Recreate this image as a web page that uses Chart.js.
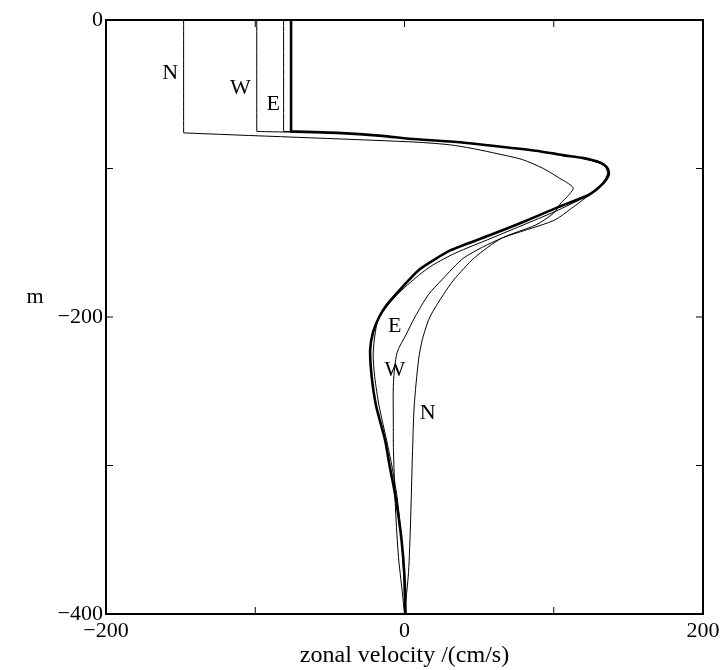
<!DOCTYPE html>
<html lang="en">
<head>
<meta charset="UTF-8">
<title>Zonal velocity profiles</title>
<script src="https://cdn.jsdelivr.net/npm/chart.js"></script>
<style>
    html, body { margin: 0; padding: 0; background: #fff; }
    #wrap { width: 720px; height: 670px; }
</style>
</head>
<body>
<div id="wrap"><canvas id="profiles"></canvas></div>
<script>
    // Velocity profiles (cm/s) against depth (m, negative downward)
    const depthN = [0, -75.5, -76, -82, -84, -87, -90, -94, -100, -106, -113, -119, -123, -130, -138, -147, -160, -175, -185, -200, -215, -229, -260, -290, -340, -372, -400];
    const velN   = [-148, -148, -148, 3, 30, 48, 62, 79, 93, 103, 113, 109, 105, 100, 88, 65, 47, 33, 26, 17, 12, 9.4, 6.5, 5.4, 4, 2.7, 0];

    const depthW = [0, -74.5, -75, -75.5, -76, -78, -80, -82, -85, -88, -91, -93, -96, -99, -103, -108, -114, -120, -126, -135, -147, -160, -175, -185, -200, -212, -224, -244, -270, -290, -330, -362, -385, -400];
    const velW   = [-99, -99, -99, -76, -45, -15, 3, 33, 62, 88, 106, 119, 130, 135, 137, 135, 129, 121, 113, 100, 65, 40, 25, 16, 7, 1, -5, -7.4, -7.5, -7.4, -6, -4, -1.5, 0];

    const depthE = [0, -74.5, -75, -76, -78, -80, -82, -85, -88, -91, -93, -96, -99, -103, -107, -113, -118, -128, -137, -147, -157, -165, -172, -185, -200, -210, -225, -240, -260, -283, -300, -321, -350, -375, -400];
    const velE   = [-81, -81, -81, -45, -15, 3, 33, 62, 88, 106, 119, 130, 134.5, 136, 134.5, 130, 123, 103, 82, 58, 34, 19, 9.4, -5, -17, -19.5, -21, -20, -17, -12, -8.5, -5, -2, -0.5, 0];

    const depthBold = [0, -74.5, -75, -76, -78, -80, -82, -85, -88, -91, -93, -96, -99, -103, -107, -113, -118, -126, -135, -145, -155, -162, -168, -175, -185, -192, -200, -210, -222, -240, -260, -283, -300, -321, -350, -375, -400];
    const velBold   = [-76, -76, -76, -45, -15, 3, 33, 62, 88, 106, 120, 131, 135.5, 137, 135.5, 130, 123, 103, 82, 57, 31, 19, 10, 3, -6, -12, -17, -21, -23, -22, -19, -13, -10, -6, -2, 0, 0.7];

    // curve labels placed in data space
    const labelText  = ['N', 'W', 'E', 'E', 'W', 'N'];
    const labelVel   = [-157, -110, -88, -6.5, -6.5, 15.5];
    const labelDepth = [-36, -46, -57, -206, -236, -265];

    const xTicks = [-200, -100, 0, 100, 200];
    const yTicks = [-400, -300, -200, -100, 0];

    const serif = '"Liberation Serif", "DejaVu Serif", serif';

    function toPoints(vel, depth) {
        return vel.map((v, i) => ({ x: v, y: depth[i] }));
    }

    function fmt(v) {
        if (v % 200 !== 0) return '';
        return v < 0 ? '\u2212' + Math.abs(v) : String(v);
    }

    // frame, inward tick marks, curve labels and the "m" axis label
    const decorations = {
        id: 'decorations',
        afterDatasetsDraw(chart) {
            const { ctx, chartArea: a, scales: { x, y } } = chart;
            ctx.save();
            ctx.strokeStyle = '#000';
            ctx.lineWidth = 1;
            xTicks.slice(1, -1).forEach(t => {
                const px = x.getPixelForValue(t);
                ctx.beginPath();
                ctx.moveTo(px, a.bottom); ctx.lineTo(px, a.bottom - 7);
                ctx.moveTo(px, a.top); ctx.lineTo(px, a.top + 7);
                ctx.stroke();
            });
            yTicks.slice(1, -1).forEach(t => {
                const py = y.getPixelForValue(t);
                ctx.beginPath();
                ctx.moveTo(a.left, py); ctx.lineTo(a.left + 7, py);
                ctx.moveTo(a.right, py); ctx.lineTo(a.right - 7, py);
                ctx.stroke();
            });
            ctx.lineWidth = 2;
            ctx.strokeRect(a.left, a.top, a.right - a.left, a.bottom - a.top);

            ctx.fillStyle = '#000';
            ctx.font = '22px ' + serif;
            ctx.textAlign = 'center';
            ctx.textBaseline = 'middle';
            labelText.forEach((t, i) => {
                ctx.fillText(t, x.getPixelForValue(labelVel[i]), y.getPixelForValue(labelDepth[i]));
            });
            ctx.fillText('m', 35, y.getPixelForValue(-187));
            ctx.restore();
        }
    };

    const thin = { borderColor: '#000', borderWidth: 1, pointRadius: 0, showLine: true, tension: 0.25, fill: false };

    new Chart(document.getElementById('profiles'), {
        type: 'scatter',
        data: {
            datasets: [
                { ...thin, label: 'N', data: toPoints(velN, depthN) },
                { ...thin, label: 'W', data: toPoints(velW, depthW) },
                { ...thin, label: 'E', data: toPoints(velE, depthE) },
                { ...thin, label: 'bold', borderWidth: 2.6, data: toPoints(velBold, depthBold) }
            ]
        },
        options: {
            responsive: true,
            maintainAspectRatio: false,
            animation: false,
            layout: { padding: { left: 0, right: 17, top: 20, bottom: 0 } },
            plugins: { legend: { display: false }, tooltip: { enabled: false } },
            scales: {
                x: {
                    type: 'linear',
                    min: -200, max: 200,
                    grid: { display: false, drawTicks: false },
                    border: { display: false },
                    ticks: {
                        stepSize: 100, autoSkip: false, maxRotation: 0,
                        color: '#000', padding: 4,
                        font: { family: serif, size: 22 },
                        callback: fmt
                    },
                    title: {
                        display: true, text: 'zonal velocity /(cm/s)', color: '#000',
                        font: { family: serif, size: 24 }, padding: { top: 0, bottom: 0 }
                    },
                    afterFit(scale) {
                        scale.height = 56;
                        scale.paddingLeft = 0;
                        scale.paddingRight = 0;
                    }
                },
                y: {
                    type: 'linear',
                    min: -400, max: 0,
                    grid: { display: false, drawTicks: false },
                    border: { display: false },
                    ticks: {
                        stepSize: 100, autoSkip: false,
                        color: '#000', padding: 3,
                        font: { family: serif, size: 22 },
                        callback: fmt
                    },
                    afterFit(scale) { scale.width = 106; }
                }
            }
        },
        plugins: [decorations]
    });
</script>
</body>
</html>
